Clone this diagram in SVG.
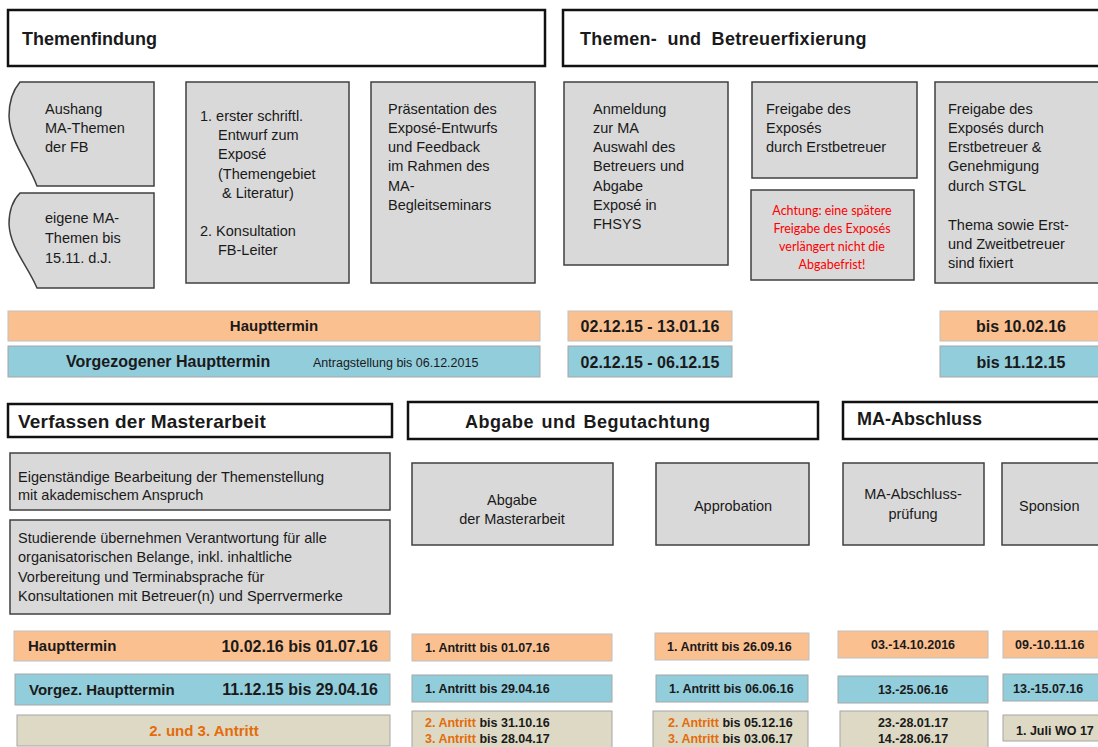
<svg xmlns="http://www.w3.org/2000/svg" width="1098" height="747" viewBox="0 0 1098 747">
<style>
text{font-family:"Liberation Sans",Arial,sans-serif;fill:#1a1a1a}
.hdr{fill:#fff;stroke:#111;stroke-width:2.5}
.ht{font-size:18px;font-weight:bold}
.box{fill:#d9d9d9;stroke:#404040;stroke-width:1.5}
.bt{font-size:14.5px}
.or{fill:#fac090;stroke:#bfbfbf;stroke-width:1}
.bl{fill:#92cddc;stroke:#a6a6a6;stroke-width:1}
.be{fill:#ddd9c4;stroke:#a6a6a6;stroke-width:1}
.b15{font-size:15px;font-weight:bold}
.b12{font-size:12.5px;font-weight:bold}
.orange{fill:#e46c0a}
.red{fill:#ff0000;font-family:Lato,"Open Sans",sans-serif;font-size:12.5px}
.c{text-anchor:middle}
.e{text-anchor:end}
</style>

<g id="hdr-themenfindung"><rect class="hdr" x="8" y="10" width="537" height="56"/><text class="ht" x="22" y="45">Themenfindung</text></g>
<g id="hdr-fixierung"><rect class="hdr" x="563" y="10" width="545" height="56"/><text class="ht" x="580" y="45" word-spacing="5" letter-spacing="0.3">Themen- und Betreuerfixierung</text></g>

<g id="aushang"><path class="box" d="M20,82 L154,82 L154,186 L37,186 C28,162 10,142 9,116 C9,100 14,89 20,82 Z"/>
<text class="bt" x="45" y="114">Aushang</text><text class="bt" x="45" y="133">MA-Themen</text><text class="bt" x="45" y="152">der FB</text></g>
<g id="eigene"><path class="box" d="M20,193 L154,193 L154,288 L37,288 C28,266 10,248 9,224 C9,209 14,199 20,193 Z"/>
<text class="bt" x="45" y="223">eigene MA-</text><text class="bt" x="45" y="243">Themen bis</text><text class="bt" x="45" y="263">15.11. d.J.</text></g>
<g id="entwurf"><rect class="box" x="186" y="82" width="163" height="201"/>
<text class="bt" x="200" y="121">1. erster schriftl.</text><text class="bt" x="218" y="140">Entwurf  zum</text><text class="bt" x="218" y="159">Exposé</text><text class="bt" x="218" y="179">(Themengebiet</text><text class="bt" x="222" y="198">&amp; Literatur)</text><text class="bt" x="200" y="236">2. Konsultation</text><text class="bt" x="218" y="255">FB-Leiter</text></g>
<g id="praesentation"><rect class="box" x="371" y="82" width="164" height="201"/>
<text class="bt" x="388" y="114">Präsentation des</text><text class="bt" x="388" y="133">Exposé-Entwurfs</text><text class="bt" x="388" y="152">und Feedback</text><text class="bt" x="388" y="171">im Rahmen des</text><text class="bt" x="388" y="191">MA-</text><text class="bt" x="388" y="210">Begleitseminars</text></g>
<g id="anmeldung"><rect class="box" x="564" y="82" width="164" height="183"/>
<text class="bt" x="593" y="114">Anmeldung</text><text class="bt" x="593" y="133">zur MA</text><text class="bt" x="593" y="152">Auswahl des</text><text class="bt" x="593" y="171">Betreuers und</text><text class="bt" x="593" y="191">Abgabe</text><text class="bt" x="593" y="210">Exposé in</text><text class="bt" x="593" y="229">FHSYS</text></g>
<g id="freigabe1"><rect class="box" x="752" y="82" width="165" height="96"/>
<text class="bt" x="766" y="114">Freigabe des</text><text class="bt" x="766" y="133">Exposés</text><text class="bt" x="766" y="152">durch Erstbetreuer</text></g>
<g id="achtung"><rect class="box" x="751" y="190" width="163" height="90"/>
<text class="red c" x="832" y="215">Achtung: eine spätere</text><text class="red c" x="832" y="233">Freigabe des Exposés</text><text class="red c" x="832" y="251">verlängert nicht die</text><text class="red c" x="832" y="269">Abgabefrist!</text></g>
<g id="freigabe2"><rect class="box" x="935" y="82" width="175" height="201"/>
<text class="bt" x="948" y="114">Freigabe des</text><text class="bt" x="948" y="133">Exposés durch</text><text class="bt" x="948" y="152">Erstbetreuer &amp;</text><text class="bt" x="948" y="171">Genehmigung</text><text class="bt" x="948" y="191">durch STGL</text><text class="bt" x="948" y="230">Thema sowie Erst-</text><text class="bt" x="948" y="249">und Zweitbetreuer</text><text class="bt" x="948" y="268">sind fixiert</text></g>

<g id="bar-haupt1"><rect class="or" x="8" y="311" width="532" height="30"/><text class="b15 c" x="274" y="331">Haupttermin</text></g>
<g id="bar-vorg1"><rect class="bl" x="8" y="346" width="532" height="31"/><text x="66" y="367" font-size="16" font-weight="bold">Vorgezogener Haupttermin</text><text x="313" y="367" font-size="12.5">Antragstellung  bis 06.12.2015</text></g>
<g id="bar-d1"><rect class="or" x="568" y="311" width="164" height="30"/><text class="c" x="650" y="332" font-size="16" font-weight="bold">02.12.15 - 13.01.16</text></g>
<g id="bar-d2"><rect class="bl" x="568" y="346" width="164" height="31"/><text class="c" x="650" y="368" font-size="16" font-weight="bold">02.12.15 - 06.12.15</text></g>
<g id="bar-d3"><rect class="or" x="940" y="311" width="170" height="30"/><text class="c" x="1021" y="332" font-size="16" font-weight="bold">bis 10.02.16</text></g>
<g id="bar-d4"><rect class="bl" x="940" y="346" width="170" height="31"/><text class="c" x="1021" y="368" font-size="16" font-weight="bold">bis 11.12.15</text></g>

<g id="hdr-verfassen"><rect class="hdr" x="8" y="404" width="384" height="33"/><text x="18" y="428" font-size="19" font-weight="bold" letter-spacing="0.2">Verfassen der Masterarbeit</text></g>
<g id="hdr-abgabe"><rect class="hdr" x="408" y="402" width="410" height="37"/><text class="ht" x="465" y="428" letter-spacing="0.5" word-spacing="2">Abgabe und Begutachtung</text></g>
<g id="hdr-abschluss"><rect class="hdr" x="843" y="402" width="265" height="37"/><text class="ht" x="857" y="425">MA-Abschluss</text></g>

<g id="eigenstaendig"><rect class="box" x="10" y="453" width="380" height="57"/>
<text class="bt" x="18" y="482">Eigenständige Bearbeitung der Themenstellung</text><text class="bt" x="18" y="500">mit akademischem Anspruch</text></g>
<g id="studierende"><rect class="box" x="10" y="520" width="380" height="94"/>
<text class="bt" x="18" y="543">Studierende übernehmen Verantwortung für alle</text><text class="bt" x="18" y="562">organisatorischen Belange, inkl. inhaltliche</text><text class="bt" x="18" y="582">Vorbereitung und Terminabsprache für</text><text class="bt" x="18" y="601">Konsultationen mit Betreuer(n) und Sperrvermerke</text></g>
<g id="abgabe-ma"><rect class="box" x="412" y="463" width="201" height="82"/>
<text class="bt c" x="512" y="505">Abgabe</text><text class="bt c" x="512" y="524">der Masterarbeit</text></g>
<g id="approbation"><rect class="box" x="656" y="463" width="153" height="82"/><text class="bt c" x="733" y="511">Approbation</text></g>
<g id="pruefung"><rect class="box" x="843" y="463" width="141" height="82"/>
<text class="bt c" x="913" y="499">MA-Abschluss-</text><text class="bt c" x="913" y="519">prüfung</text></g>
<g id="sponsion"><rect class="box" x="1002" y="463" width="108" height="82"/><text class="bt" x="1019" y="511">Sponsion</text></g>

<g id="b-haupt2"><rect class="or" x="14" y="631" width="376" height="30"/><text class="b15" x="28" y="651">Haupttermin</text><text class="e" x="378" y="652" font-size="16" font-weight="bold">10.02.16 bis 01.07.16</text></g>
<g id="b-vorg2"><rect class="bl" x="15" y="674" width="375" height="31"/><text class="b15" x="29" y="695">Vorgez. Haupttermin</text><text class="e" x="378" y="695" font-size="16" font-weight="bold">11.12.15 bis 29.04.16</text></g>
<g id="b-antritt"><rect class="be" x="17" y="715" width="373" height="31"/><text class="b15 c orange" x="204" y="736">2. und 3. Antritt</text></g>

<g id="c1o"><rect class="or" x="412" y="634" width="200" height="27"/><text class="b12" x="425" y="652">1. Antritt bis  01.07.16</text></g>
<g id="c1b"><rect class="bl" x="412" y="675" width="200" height="27"/><text class="b12" x="425" y="693">1. Antritt bis  29.04.16</text></g>
<g id="c1e"><rect class="be" x="412" y="711" width="200" height="40"/>
<text class="b12" x="425" y="727"><tspan class="orange">2. Antritt</tspan> bis  31.10.16</text><text class="b12" x="425" y="743"><tspan class="orange">3. Antritt</tspan> bis  28.04.17</text></g>
<g id="c2o"><rect class="or" x="655" y="633" width="154" height="27"/><text class="b12" x="667" y="651">1. Antritt bis  26.09.16</text></g>
<g id="c2b"><rect class="bl" x="656" y="675" width="152" height="27"/><text class="b12" x="669" y="693">1. Antritt bis  06.06.16</text></g>
<g id="c2e"><rect class="be" x="653" y="711" width="155" height="40"/>
<text class="b12" x="668" y="727"><tspan class="orange">2. Antritt</tspan> bis  05.12.16</text><text class="b12" x="668" y="743"><tspan class="orange">3. Antritt</tspan> bis  03.06.17</text></g>
<g id="c3o"><rect class="or" x="838" y="631" width="150" height="27"/><text class="b12 c" x="913" y="649">03.-14.10.2016</text></g>
<g id="c3b"><rect class="bl" x="838" y="676" width="150" height="27"/><text class="b12 c" x="913" y="694">13.-25.06.16</text></g>
<g id="c3e"><rect class="be" x="840" y="711" width="148" height="40"/>
<text class="b12 c" x="913" y="727">23.-28.01.17</text><text class="b12 c" x="913" y="743">14.-28.06.17</text></g>
<g id="c4o"><rect class="or" x="1003" y="631" width="110" height="27"/><text class="b12" x="1015" y="649">09.-10.11.16</text></g>
<g id="c4b"><rect class="bl" x="1003" y="674" width="110" height="27"/><text class="b12" x="1013" y="693">13.-15.07.16</text></g>
<g id="c4e"><rect class="be" x="1003" y="715" width="110" height="26"/><text class="b12" x="1016" y="735">1. Juli WO 17</text></g>

<g id="connectors"/>
</svg>
